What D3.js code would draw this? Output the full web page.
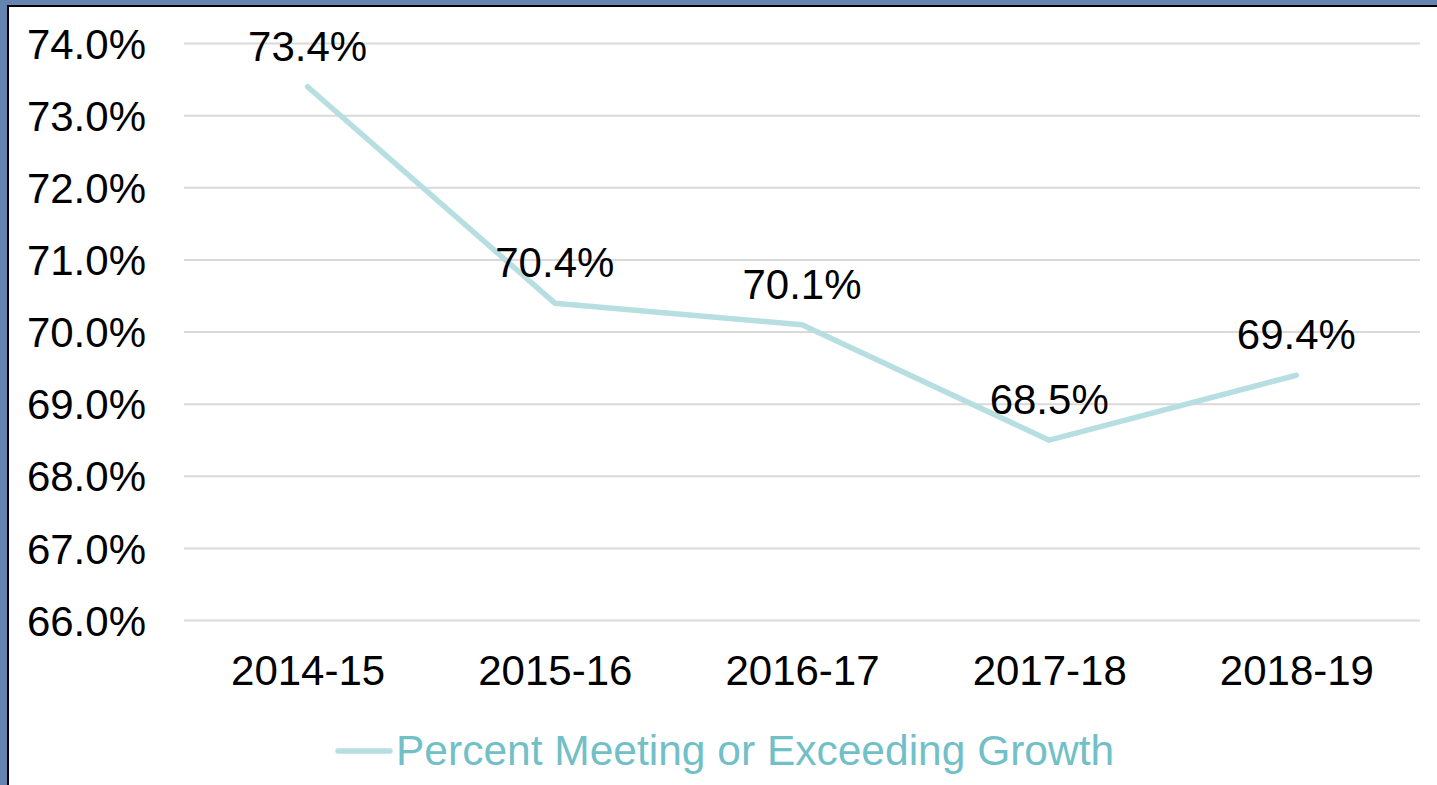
<!DOCTYPE html>
<html>
<head>
<meta charset="utf-8">
<script src="https://cdn.jsdelivr.net/npm/d3@7"></script>
<style>
  html, body { margin: 0; padding: 0; background: #6585b0; }
  svg { display: block; font-family: "Liberation Sans", Arial, sans-serif; }
</style>
</head>
<body>
<script>
// chart data
var years = ['2014-15', '2015-16', '2016-17', '2017-18', '2018-19'];
var percents = [73.4, 70.4, 70.1, 68.5, 69.4];
var yTicks = [66, 67, 68, 69, 70, 71, 72, 73, 74];
var seriesName = 'Percent Meeting or Exceeding Growth';

(function(){
	const W = 1437, H = 785;
	const PLOT = { left: 184, right: 1420, top: 43.5, bottom: 620.5 };
	const LINE_COLOR = '#b7dfe2';
	const LEGEND_COLOR = '#72c0c7';

	var svg = d3.select('body').append('svg')
		.attr('width', W)
		.attr('height', H);

	// frame: blue outer, black rule, white panel
	svg.append('rect').attr('x', 0).attr('y', 0).attr('width', W).attr('height', H).attr('fill', '#6585b0');
	svg.append('rect').attr('x', 7).attr('y', 5).attr('width', W - 7).attr('height', H - 5).attr('fill', '#000');
	svg.append('rect').attr('x', 9).attr('y', 7).attr('width', W - 9).attr('height', H - 7).attr('fill', '#fff');

	var x = d3.scalePoint().domain(years).range([PLOT.left, PLOT.right]).padding(0.5);
	var y = d3.scaleLinear().domain([66, 74]).range([PLOT.bottom, PLOT.top]);

	// gridlines
	svg.append('g').selectAll('line')
		.data(yTicks)
		.enter().append('line')
		.attr('x1', PLOT.left).attr('x2', PLOT.right)
		.attr('y1', function(d){ return y(d); })
		.attr('y2', function(d){ return y(d); })
		.attr('stroke', '#d9d9d9')
		.attr('stroke-width', 2);

	// Y axis labels
	var yAxis = svg.append('g')
		.attr('transform', 'translate(146,0)')
		.call(d3.axisLeft(y).tickValues(yTicks).tickSize(0).tickPadding(0)
			.tickFormat(function(d){ return d.toFixed(1) + '%'; }));
	yAxis.select('.domain').remove();
	yAxis.selectAll('text')
		.attr('font-size', 42)
		.attr('font-family', '"Liberation Sans", Arial, sans-serif')
		.attr('fill', '#000')
		.attr('dy', '0.35em');

	// X axis labels
	var xAxis = svg.append('g')
		.attr('transform', 'translate(0,' + PLOT.bottom + ')')
		.call(d3.axisBottom(x).tickSize(0).tickPadding(0));
	xAxis.select('.domain').remove();
	xAxis.selectAll('text')
		.attr('font-size', 42)
		.attr('font-family', '"Liberation Sans", Arial, sans-serif')
		.attr('fill', '#000')
		.attr('y', 64.5)
		.attr('dy', 0);

	// series line
	var line = d3.line()
		.x(function(d, i){ return x(years[i]); })
		.y(function(d){ return y(d); });
	svg.append('path')
		.datum(percents)
		.attr('fill', 'none')
		.attr('stroke', LINE_COLOR)
		.attr('stroke-width', 5.5)
		.attr('stroke-linejoin', 'round')
		.attr('stroke-linecap', 'round')
		.attr('d', line);

	// data labels
	svg.append('g').selectAll('text')
		.data(percents)
		.enter().append('text')
		.attr('x', function(d, i){ return x(years[i]); })
		.attr('y', function(d){ return y(d) - 26; })
		.attr('text-anchor', 'middle')
		.attr('font-size', 42)
		.attr('fill', '#000')
		.text(function(d){ return d.toFixed(1) + '%'; });

	// legend
	var legend = svg.append('g').attr('transform', 'translate(0,751)');
	legend.append('line')
		.attr('x1', 338).attr('x2', 390)
		.attr('y1', 0).attr('y2', 0)
		.attr('stroke', LINE_COLOR)
		.attr('stroke-width', 5.5)
		.attr('stroke-linecap', 'round');
	legend.append('text')
		.attr('x', 396)
		.attr('y', 14)
		.attr('font-size', 42.5)
		.attr('fill', LEGEND_COLOR)
		.text(seriesName);
})();
</script>
</body>
</html>
